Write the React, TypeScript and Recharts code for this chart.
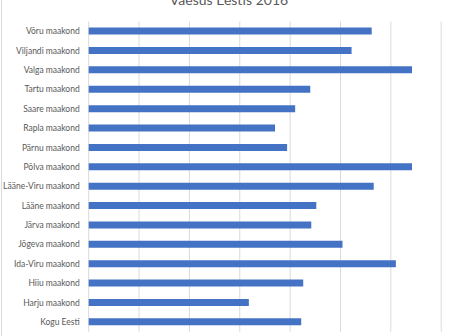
import { BarChart, Bar, XAxis, YAxis, CartesianGrid } from "recharts";

const counties = [
  "Võru maakond",
  "Viljandi maakond",
  "Valga maakond",
  "Tartu maakond",
  "Saare maakond",
  "Rapla maakond",
  "Pärnu maakond",
  "Põlva maakond",
  "Lääne-Viru maakond",
  "Lääne maakond",
  "Järva maakond",
  "Jõgeva maakond",
  "Ida-Viru maakond",
  "Hiiu maakond",
  "Harju maakond",
  "Kogu Eesti",
];

const povertyRate = [
  28.1, 26.1, 32.1, 22.0, 20.5, 18.5, 19.7, 32.1,
  28.3, 22.6, 22.1, 25.2, 30.5, 21.3, 15.9, 21.1,
];

const xTicks = [0, 5, 10, 15, 20, 25, 30, 35];

const data = counties.map((name, i) => ({ name, value: povertyRate[i] }));

function CountyTick({ x, y, payload }: any) {
  return (
    <text
      x={x}
      y={y}
      dy={3}
      textAnchor="end"
      fontSize={8.5}
      fill="#595959"
    >
      {payload.value}
    </text>
  );
}

export default function App() {
  return (
    <div
      style={{
        position: "absolute",
        left: 0,
        top: 0,
        width: 458,
        height: 336,
        background: "#fff",
        overflow: "hidden",
        fontFamily: "Lato, sans-serif",
      }}
    >
      <div
        style={{
          position: "absolute",
          left: 1,
          top: 0,
          width: 1,
          height: 336,
          background: "#d9d9d9",
        }}
      />
      <div
        style={{
          position: "absolute",
          top: -9,
          left: 0,
          width: 458,
          textAlign: "center",
          fontSize: 14,
          color: "#595959",
        }}
      >
        Vaesus Eestis 2016
      </div>
      <BarChart
        layout="vertical"
        width={458}
        height={336}
        data={data}
        margin={{ top: 21.6, right: 16.8, bottom: 4.3, left: 0 }}
      >
        <CartesianGrid horizontal={false} stroke="#d9d9d9" strokeWidth={1} />
        <XAxis type="number" domain={[0, 35]} ticks={xTicks} hide />
        <YAxis
          type="category"
          dataKey="name"
          width={88.7}
          tickSize={0}
          tickMargin={9}
          axisLine={false}
          interval={0}
          tick={<CountyTick />}
        />
        <Bar dataKey="value" fill="#4472C4" barSize={7} isAnimationActive={false} />
      </BarChart>
    </div>
  );
}
